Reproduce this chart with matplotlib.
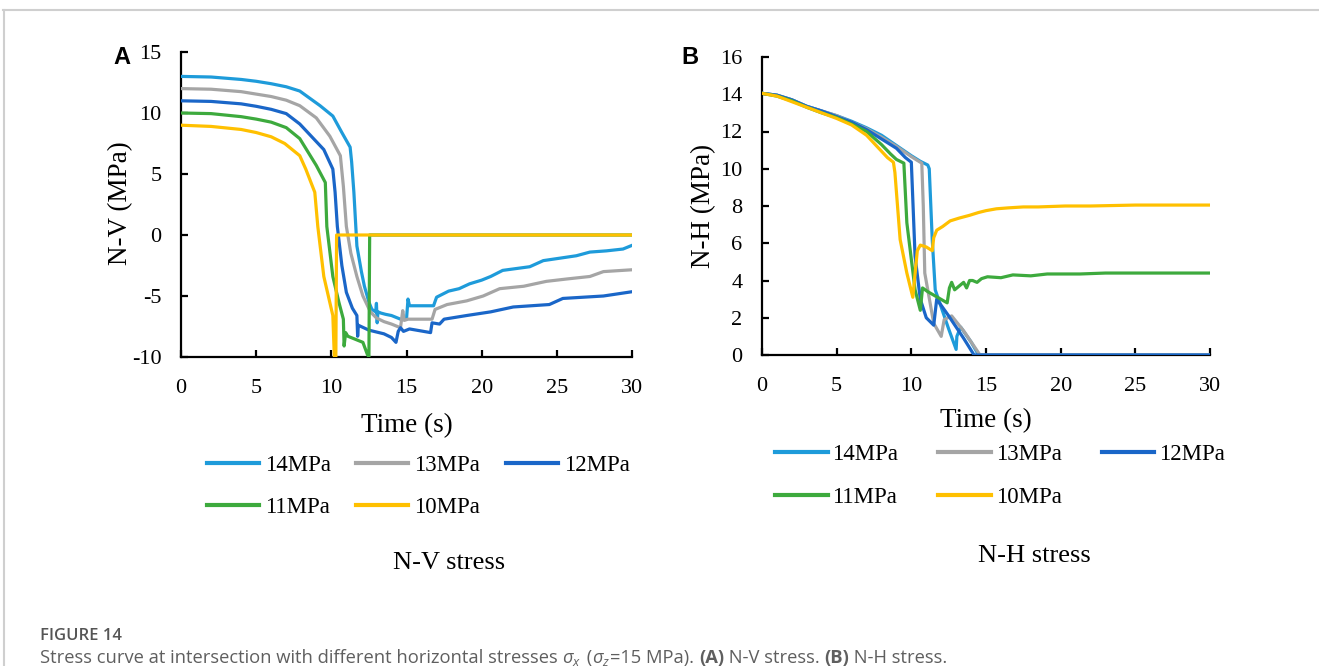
import matplotlib
matplotlib.use("Agg")
import matplotlib.pyplot as plt
from matplotlib.lines import Line2D

# ---------------- data ----------------
labels = ["14MPa", "13MPa", "12MPa", "11MPa", "10MPa"]
colors = ["#1E9BDA", "#A5A5A5", "#1A66C8", "#3DAA3D", "#FFC000"]

# Panel A: N-V stress
a14_t = [0, 2, 4, 5, 6, 7, 7.9, 9.25, 10.1, 10.7, 11.25, 11.35, 11.5, 11.7, 12.0, 12.2, 12.5, 12.7,
         12.95, 13.0, 13.05, 13.1, 13.3, 13.6, 14.0, 14.6, 15.0, 15.1, 15.2, 16.8, 17.0, 17.8, 18.5,
         19.2, 20.0, 20.6, 21.4, 22.3, 23.2, 24.1, 25.2, 26.3, 27.2, 28.3, 29.4, 30]
a14_v = [13, 12.95, 12.75, 12.6, 12.4, 12.15, 11.8, 10.6, 9.75, 8.4, 7.2, 6.0, 3.5, -0.9, -3.0, -4.2,
         -5.5, -6.1, -6.3, -5.6, -7.2, -6.3, -6.4, -6.5, -6.6, -6.9, -6.9, -5.25, -5.8, -5.8, -5.1,
         -4.6, -4.4, -4.0, -3.7, -3.4, -2.9, -2.75, -2.6, -2.1, -1.9, -1.7, -1.4, -1.3, -1.15, -0.85]

a13_t = [0, 2, 4, 5, 6, 7, 7.9, 9.0, 9.9, 10.6, 10.8, 11.0, 11.3, 11.7, 12.1, 12.6, 13.0, 13.5, 14.0,
         14.6, 14.75, 14.85, 15.1, 16.7, 16.9, 17.7, 19.0, 20.1, 21.2, 22.8, 24.3, 25.7, 27.2, 28.1, 30]
a13_v = [12, 11.95, 11.75, 11.55, 11.35, 11.05, 10.6, 9.6, 8.1, 6.5, 4.0, 0.7, -1.5, -3.4, -5.0, -6.3,
         -6.8, -7.1, -7.3, -7.6, -6.2, -7.0, -6.9, -6.9, -6.1, -5.7, -5.4, -5.0, -4.4, -4.2, -3.8,
         -3.6, -3.4, -3.0, -2.85]

a12_t = [0, 2, 4, 5, 6, 7, 7.9, 9.5, 10.1, 10.25, 10.4, 10.7, 11.0, 11.4, 11.7, 11.75, 11.8, 12.5,
         13.5, 14.0, 14.3, 14.45, 14.6, 14.8, 15.2, 16.6, 16.7, 17.2, 17.5, 19.0, 20.6, 22.1, 24.5,
         25.4, 28.1, 30]
a12_v = [11, 10.95, 10.75, 10.55, 10.3, 9.95, 9.1, 7.0, 5.4, 3.5, 0.7, -2.5, -4.7, -6.0, -6.6, -8.3,
         -7.4, -7.8, -8.1, -8.4, -8.8, -7.9, -7.6, -7.9, -7.7, -8.0, -7.2, -7.3, -6.9, -6.6, -6.3,
         -5.9, -5.7, -5.2, -5.0, -4.65]

a11_t = [0, 2, 4, 5, 6, 7, 7.9, 9.0, 9.6, 9.7, 10.1, 10.5, 10.8, 10.85, 10.95, 11.1, 12.1, 12.4,
         12.5, 12.55, 30.1]
a11_v = [10, 9.95, 9.7, 9.5, 9.25, 8.8, 7.9, 5.7, 4.3, 0.7, -3.4, -5.5, -6.9, -9.1, -8.0, -8.3, -8.8,
         -9.8, -10, 0, 0]

a10_t = [0, 2, 4, 5, 6, 6.9, 7.9, 8.3, 8.9, 9.1, 9.5, 10.1, 10.2, 10.3, 10.35, 30]
a10_v = [9, 8.9, 8.65, 8.4, 8.05, 7.5, 6.5, 5.4, 3.5, 0.7, -3.4, -6.6, -10, -10, 0, 0]

# Panel B: N-H stress
b14_t = [0, 1, 2, 3, 4, 5, 6, 7, 8, 9, 10, 10.6, 11.1, 11.2, 11.4, 11.6, 11.9, 12.5, 13.0, 13.05,
         13.3, 14.0, 14.5, 30]
b14_v = [14.05, 13.95, 13.7, 13.35, 13.1, 12.85, 12.55, 12.2, 11.8, 11.25, 10.7, 10.4, 10.2, 10.0,
         6.2, 3.5, 2.8, 1.4, 0.3, 1.0, 1.5, 0.7, 0, 0]

b13_t = [0, 1, 2, 3, 4, 5, 6, 7, 8, 9, 10, 10.7, 10.8, 10.9, 11.5, 12.0, 12.2, 12.7, 13.5, 14.6, 30]
b13_v = [14.05, 13.95, 13.7, 13.35, 13.1, 12.85, 12.5, 12.15, 11.7, 11.2, 10.65, 10.3, 8.0, 4.4, 1.7,
         1.0, 1.9, 2.1, 1.3, 0, 0]

b12_t = [0, 1, 2, 3, 4, 5, 6, 7, 8, 9, 9.6, 10.0, 10.25, 10.6, 11.0, 11.5, 11.7, 12.5, 13.5, 14.2, 30]
b12_v = [14.05, 13.95, 13.7, 13.35, 13.1, 12.8, 12.5, 12.1, 11.6, 11.1, 10.6, 10.35, 5.3, 3.0, 2.0,
         1.6, 3.0, 2.1, 0.9, 0, 0]

b11_t = [0, 1, 2, 3, 4, 5, 6, 7, 8, 8.6, 9.0, 9.5, 9.7, 10.25, 10.6, 10.75, 11.1, 12.4, 12.55, 12.7,
         12.9, 13.2, 13.5, 13.7, 13.9, 14.1, 14.4, 14.7, 15.1, 16.0, 16.8, 18, 19.1, 21.3, 23, 25.8,
         28, 30]
b11_v = [14.05, 13.9, 13.65, 13.3, 13.0, 12.75, 12.4, 12.0, 11.3, 10.8, 10.5, 10.3, 7.1, 3.5, 2.4,
         3.6, 3.4, 2.8, 3.6, 3.9, 3.5, 3.7, 3.9, 3.6, 4.0, 4.0, 3.9, 4.1, 4.2, 4.15, 4.3, 4.25, 4.35,
         4.35, 4.4, 4.4, 4.4, 4.4]

b10_t = [0, 1, 2, 3, 4, 5, 6, 7, 7.7, 8.4, 8.8, 8.9, 9.25, 9.7, 10.1, 10.4, 10.6, 11.0, 11.4, 11.5,
         11.7, 12.1, 12.6, 13.2, 13.9, 14.5, 15.0, 15.7, 16.5, 17.5, 18.5, 20.3, 22, 25, 28, 30]
b10_v = [14.05, 13.9, 13.6, 13.3, 13.0, 12.7, 12.35, 11.8, 11.2, 10.6, 10.35, 9.8, 6.2, 4.4, 3.1,
         5.6, 5.9, 5.8, 5.6, 6.3, 6.7, 6.9, 7.2, 7.35, 7.5, 7.65, 7.75, 7.85, 7.9, 7.95, 7.95, 8.0,
         8.0, 8.05, 8.05, 8.05]

x_ticks = [0, 5, 10, 15, 20, 25, 30]
a_yticks = [-10, -5, 0, 5, 10, 15]
b_yticks = [0, 2, 4, 6, 8, 10, 12, 14, 16]

# ---------------- figure ----------------
serif = "Liberation Serif"
plt.rcParams["font.family"] = [serif, "DejaVu Serif"]
plt.rcParams["axes.unicode_minus"] = False
plt.rcParams["mathtext.fontset"] = "custom"
plt.rcParams["mathtext.it"] = "Open Sans:italic"
plt.rcParams["mathtext.rm"] = "Open Sans"

W, H = 1319, 666
fig = plt.figure(figsize=(W / 100, H / 100), dpi=100)


def fx(px):
    return px / W


def fy(py):
    return 1 - py / H


axA = fig.add_axes([fx(181), fy(357), fx(632) - fx(181), fy(52) - fy(357)])
axB = fig.add_axes([fx(762), fy(355), fx(1210) - fx(762), fy(57) - fy(355)])

seriesA = [(a14_t, a14_v), (a13_t, a13_v), (a12_t, a12_v), (a11_t, a11_v), (a10_t, a10_v)]
seriesB = [(b14_t, b14_v), (b13_t, b13_v), (b12_t, b12_v), (b11_t, b11_v), (b10_t, b10_v)]

handlesA = []
for (t, v), c, lab in zip(seriesA, colors, labels):
    h, = axA.plot(t, v, color=c, lw=2.3, label=lab, solid_joinstyle="round")
    handlesA.append(h)
handlesB = []
for (t, v), c, lab in zip(seriesB, colors, labels):
    h, = axB.plot(t, v, color=c, lw=2.3, label=lab, solid_joinstyle="round")
    handlesB.append(h)

for ax, yt, ylim, ylab in [(axA, a_yticks, (-10, 15), "N-V (MPa)"),
                           (axB, b_yticks, (0, 16), "N-H (MPa)")]:
    ax.set_xlim(0, 30)
    ax.set_ylim(*ylim)
    ax.set_xticks(x_ticks)
    ax.set_yticks(yt)
    for s in ["top", "right"]:
        ax.spines[s].set_visible(False)
    for s in ["left", "bottom"]:
        ax.spines[s].set_linewidth(1.6)
        ax.spines[s].set_color("black")
        ax.spines[s].set_zorder(1)
    ax.tick_params(axis="both", direction="in", length=5, width=1.6, labelsize=16,
                   color="black")
    ax.tick_params(axis="x", pad=16)
    ax.tick_params(axis="y", pad=14)
    ax.set_xlabel("Time (s)", fontsize=19.5, va="center")
    ax.set_ylabel(ylab, fontsize=19.5, va="center")
    ax.set_facecolor("none")

axA.xaxis.set_label_coords(0.5, (357 - 426) / 305)
axA.yaxis.set_label_coords((121 - 181) / 451, 0.505)
axB.xaxis.set_label_coords(0.5, (355 - 421) / 298)
axB.yaxis.set_label_coords((704 - 762) / 448, 0.5)

# legends (order so that rows read 14,13,12 / 11,10)
order = [0, 3, 1, 4, 2]
legA = fig.legend([handlesA[i] for i in order], [labels[i] for i in order], ncol=3,
                  loc="upper left", bbox_to_anchor=(fx(207), fy(455)), frameon=False,
                  prop={"family": serif, "size": 16.5}, handlelength=2.27, handletextpad=0.26,
                  columnspacing=1.11, labelspacing=0.9, borderpad=0, borderaxespad=0)
legB = fig.legend([handlesB[i] for i in order], [labels[i] for i in order], ncol=3,
                  loc="upper left", bbox_to_anchor=(fx(775), fy(444)), frameon=False,
                  prop={"family": serif, "size": 16.5}, handlelength=2.3, handletextpad=0.2,
                  columnspacing=1.75, labelspacing=0.95, borderpad=0, borderaxespad=0)
for leg in (legA, legB):
    for ln in leg.get_lines():
        ln.set_linewidth(3)

# panel letters and sub-titles
fig.text(fx(122), fy(57), "A", fontsize=17, fontweight="bold", fontfamily="Liberation Sans",
         ha="center", va="center")
fig.text(fx(690), fy(57), "B", fontsize=17, fontweight="bold", fontfamily="Liberation Sans",
         ha="center", va="center")
fig.text(fx(449), fy(563), "N-V stress", fontsize=19, ha="center", va="center")
fig.text(fx(1034), fy(556), "N-H stress", fontsize=19, ha="center", va="center")

# frame lines
fig.add_artist(Line2D([fx(3), 1], [fy(10), fy(10)], color="#cfcfcf", lw=1.5))
fig.add_artist(Line2D([fx(4), fx(4)], [0, fy(10)], color="#cfcfcf", lw=1.5))

# caption
cap_color = "#5f5f5f"
fig.text(fx(40), fy(636), "FIGURE 14", fontsize=12, fontfamily="Open Sans", fontweight="semibold",
         color="#555555", ha="left", va="center")

pieces = [
    ("Stress curve at intersection with different horizontal stresses ", "normal"),
    (r"$\sigma_x$", "normal"),
    (" (", "normal"),
    (r"$\sigma_z$", "normal"),
    ("=15 MPa). ", "normal"),
    ("(A)", "bold"),
    (" N-V stress. ", "normal"),
    ("(B)", "bold"),
    (" N-H stress.", "normal"),
]
renderer = fig.canvas.get_renderer()
xcur = fx(40)
ycap = fy(663)
for txt, wt in pieces:
    tt = fig.text(xcur, ycap, txt, fontsize=13.2, fontfamily="Open Sans", fontweight=wt,
                  color=cap_color, ha="left", va="baseline")
    bb = tt.get_window_extent(renderer=renderer)
    xcur += bb.width / W

fig.savefig("out.png", dpi=100)
